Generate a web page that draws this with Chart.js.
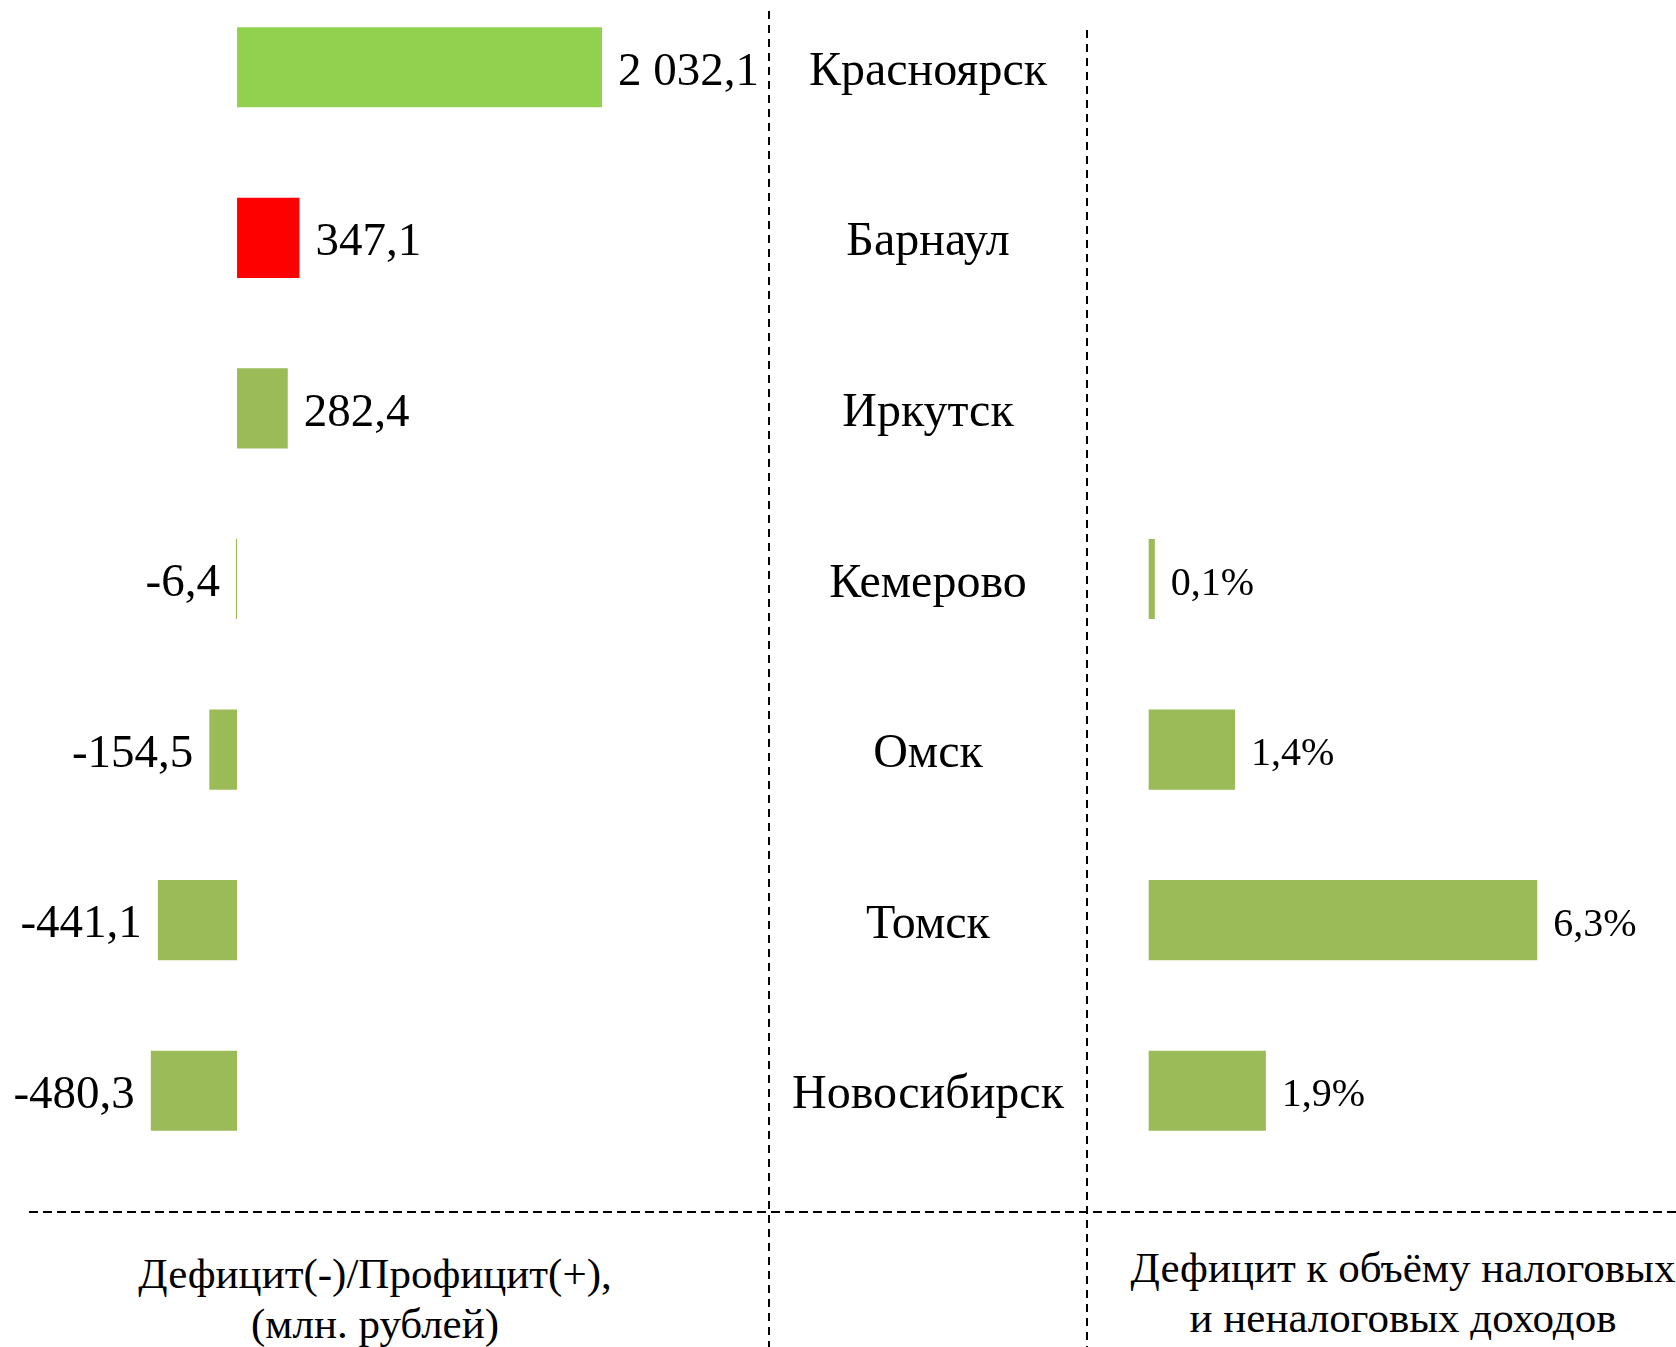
<!DOCTYPE html>
<html lang="ru">
<head>
<meta charset="UTF-8" />
<title>Дефицит / профицит бюджетов</title>
<script src="https://cdn.jsdelivr.net/npm/chart.js"></script>
<style>
  html, body { margin: 0; padding: 0; background: #fff; }
  body {
    width: 1676px; height: 1347px;
    position: relative; overflow: hidden;
    font-family: "Liberation Serif", "Times New Roman", serif;
    color: #000;
  }
  #leftBox  { position: absolute; left: 0;     top: -18px; width: 769px; height: 1194px; }
  #rightBox { position: absolute; left: 769px; top: -18px; width: 907px; height: 1194px; }
  svg { position: absolute; left: 0; top: 0; }
  .caption {
    position: absolute;
    text-align: center;
    font-size: 43px;
    line-height: 50px;
    white-space: nowrap;
    transform: translateX(-50%);
  }
</style>
</head>
<body>
  <svg width="1676" height="1347">
    <line x1="769" y1="11" x2="769" y2="1347" stroke="#000" stroke-width="2" stroke-dasharray="8 6" />
    <line x1="1087" y1="30" x2="1087" y2="1347" stroke="#000" stroke-width="2" stroke-dasharray="8 6" />
    <line x1="29" y1="1212" x2="1676" y2="1212" stroke="#000" stroke-width="2" stroke-dasharray="9 5" />
  </svg>

  <div id="leftBox"><canvas id="balanceChart"></canvas></div>
  <div id="rightBox"><canvas id="shareChart"></canvas></div>

  <div class="caption" style="left:375px; top:1249px;">Дефицит(-)/Профицит(+),<br>(млн. рублей)</div>
  <div class="caption" style="left:1403px; top:1243px;">Дефицит к объёму налоговых<br>и неналоговых доходов</div>

  <script>
    const cities = ['Красноярск', 'Барнаул', 'Иркутск', 'Кемерово', 'Омск', 'Томск', 'Новосибирск'];
    // млн. рублей
    const balance = [2032.1, 347.1, 282.4, -6.4, -154.5, -441.1, -480.3];
    // % от налоговых и неналоговых доходов
    const deficitShare = [null, null, null, 0.1, 1.4, 6.3, 1.9];
    const balanceColors = ['#92D050', '#FF0000', '#9BBB59', '#9BBB59', '#9BBB59', '#9BBB59', '#9BBB59'];

    function fmtRub(v) {
      const parts = Math.abs(v).toFixed(1).split('.');
      const whole = parts[0].replace(/\B(?=(\d{3})+(?!\d))/g, ' ');
      return (v < 0 ? '-' : '') + whole + ',' + parts[1];
    }
    function fmtPct(v) {
      return v.toFixed(1).replace('.', ',') + '%';
    }

    const serif = 'Liberation Serif';

    // подписи значений рядом с концом столбца
    const valueLabels = {
      id: 'valueLabels',
      afterDatasetsDraw(chart, args, opts) {
        const ctx = chart.ctx;
        const meta = chart.getDatasetMeta(0);
        const data = chart.data.datasets[0].data;
        ctx.save();
        ctx.font = opts.font;
        ctx.fillStyle = '#000';
        ctx.textBaseline = 'middle';
        meta.data.forEach((bar, i) => {
          const v = data[i];
          if (v === null || v === undefined) return;
          const txt = opts.format(v);
          if (v >= 0) {
            ctx.textAlign = 'left';
            ctx.fillText(txt, bar.x + opts.gap, bar.y + 5);
          } else {
            ctx.textAlign = 'right';
            ctx.fillText(txt, bar.x - opts.gap, bar.y + 5);
          }
        });
        ctx.restore();
      }
    };

    // названия городов в средней колонке (в отступе слева от области графика)
    const cityLabels = {
      id: 'cityLabels',
      afterDraw(chart) {
        const ctx = chart.ctx;
        const yScale = chart.scales.y;
        const cx = chart.chartArea.left / 2;
        ctx.save();
        ctx.font = '48px "' + serif + '"';
        ctx.fillStyle = '#000';
        ctx.textAlign = 'center';
        ctx.textBaseline = 'middle';
        chart.data.labels.forEach((name, i) => {
          ctx.fillText(name, cx, yScale.getPixelForValue(i) + 5);
        });
        ctx.restore();
      }
    };

    new Chart(document.getElementById('balanceChart'), {
      type: 'bar',
      data: {
        labels: cities,
        datasets: [{
          data: balance,
          backgroundColor: balanceColors,
          borderWidth: 0,
          barPercentage: 0.47,
          categoryPercentage: 1
        }]
      },
      options: {
        indexAxis: 'y',
        responsive: true,
        maintainAspectRatio: false,
        animation: false,
        layout: { padding: 0 },
        plugins: {
          legend: { display: false },
          tooltip: { enabled: false },
          valueLabels: { font: '47px "' + serif + '"', gap: 16, format: fmtRub }
        },
        scales: {
          x: { display: false, min: -1320, max: 2962 },
          y: { display: false }
        }
      },
      plugins: [valueLabels]
    });

    new Chart(document.getElementById('shareChart'), {
      type: 'bar',
      data: {
        labels: cities,
        datasets: [{
          data: deficitShare,
          backgroundColor: '#9BBB59',
          borderWidth: 0,
          barPercentage: 0.47,
          categoryPercentage: 1
        }]
      },
      options: {
        indexAxis: 'y',
        responsive: true,
        maintainAspectRatio: false,
        animation: false,
        layout: { padding: { left: 318, right: 0, top: 0, bottom: 0 } },
        plugins: {
          legend: { display: false },
          tooltip: { enabled: false },
          valueLabels: { font: '40px "' + serif + '"', gap: 16, format: fmtPct }
        },
        scales: {
          x: { display: false, min: -1.0, max: 8.55 },
          y: { display: false }
        }
      },
      plugins: [valueLabels, cityLabels]
    });
  </script>
</body>
</html>
